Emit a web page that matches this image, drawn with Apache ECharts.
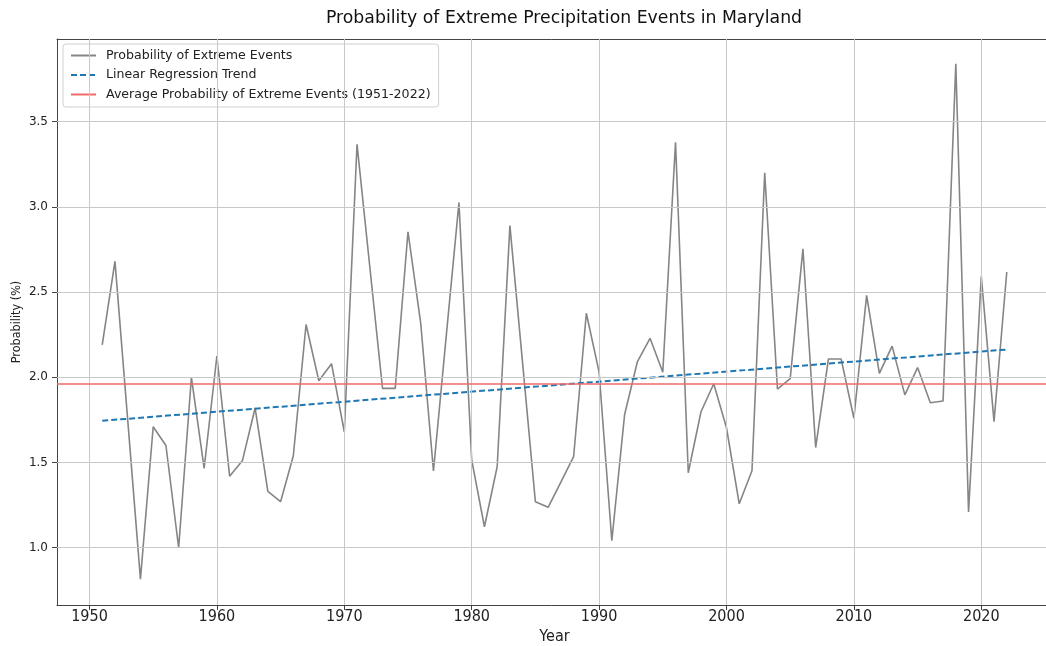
<!DOCTYPE html>
<html>
<head>
<meta charset="utf-8">
<script src="https://cdn.jsdelivr.net/npm/echarts@6/dist/echarts.min.js"></script>
<style>html,body{margin:0;padding:0;background:#fff}#c{width:1046px;height:646px}</style>
</head>
<body>
<div id="c"></div>
<script>
const years = [1951,1952,1953,1954,1955,1956,1957,1958,1959,1960,1961,1962,1963,1964,1965,1966,1967,1968,1969,1970,
  1971,1972,1973,1974,1975,1976,1977,1978,1979,1980,1981,1982,1983,1984,1985,1986,1987,1988,1989,1990,
  1991,1992,1993,1994,1995,1996,1997,1998,1999,2000,2001,2002,2003,2004,2005,2006,2007,2008,2009,2010,
  2011,2012,2013,2014,2015,2016,2017,2018,2019,2020,2021,2022];
const probability = [2.19,2.68,1.75,0.816,1.71,1.60,1.00,2.00,1.466,2.125,1.42,1.51,1.82,1.33,1.27,1.54,2.31,1.98,2.08,1.68,
  3.367,2.65,1.935,1.935,2.854,2.317,1.45,2.24,3.025,1.515,1.123,1.475,2.89,2.08,1.27,1.237,1.385,1.534,2.376,2.03,
  1.041,1.78,2.09,2.229,2.03,3.379,1.44,1.798,1.962,1.704,1.258,1.452,3.20,1.931,1.992,2.754,1.588,2.107,2.107,1.76,
  2.481,2.023,2.183,1.897,2.057,1.851,1.861,3.84,1.21,2.592,1.74,2.618];
const trendYears = [1951, 2022];
const trendValues = [1.745, 2.163];
const averageValue = 1.955;
const xTicks = [1950,1960,1970,1980,1990,2000,2010,2020];
const yTicks = [1.0,1.5,2.0,2.5,3.0,3.5];

const seriesNames = ['Probability of Extreme Events','Linear Regression Trend','Average Probability of Extreme Events (1951-2022)'];
const FONT = 'DejaVu Sans';
const NARROW = '"Liberation Sans Narrow", "DejaVu Sans Condensed", sans-serif';

const X_MIN = 1947.45, X_MAX = 2025.55, Y_MIN = 0.664, Y_MAX = 3.985;

const chart = echarts.init(document.getElementById('c'), null, {renderer:'canvas'});
const gridMarks = yTicks.map(v => ({yAxis: v})).concat(xTicks.map(v => ({xAxis: v})));

chart.setOption({
  animation: false,
  backgroundColor: '#ffffff',
  title: {
    text: 'Probability of Extreme Precipitation Events in Maryland',
    left: 559, top: 5, textAlign: 'center',
    textStyle: {fontFamily: FONT, fontSize: 17.3, fontWeight: 'normal', color: '#111'}
  },
  legend: {
    data: seriesNames,
    orient: 'vertical',
    left: 63, top: 44,
    padding: [5, 8, 6, 7],
    itemGap: 6.5,
    itemWidth: 25, itemHeight: 14,
    backgroundColor: 'rgba(255,255,255,0.85)',
    borderColor: '#d0d0d0', borderWidth: 1, borderRadius: 3,
    itemStyle: {color: 'rgba(0,0,0,0)', borderColor: 'rgba(0,0,0,0)', borderWidth: 0, opacity: 0},
    textStyle: {fontFamily: FONT, fontSize: 12.6, color: '#222', padding: [0,0,0,5]}
  },
  grid: {
    left: 57, top: 39, width: 995, height: 566,
    show: false, containLabel: false, outerBoundsMode: 'none'
  },
  xAxis: [{
    type: 'value', min: X_MIN, max: X_MAX,
    name: 'Year', nameLocation: 'middle', nameGap: 24, nameMoveOverlap: false,
    nameTextStyle: {fontFamily: NARROW, fontSize: 16, color: '#222'},
    axisLine: {show: true, lineStyle: {color: '#444', width: 1}},
    axisTick: {show: true, length: 5, lineStyle: {color: '#444'}, customValues: xTicks},
    axisLabel: {fontFamily: NARROW, fontSize: 16, color: '#222', margin: 4, customValues: xTicks,
      formatter: v => String(Math.round(v))},
    splitLine: {show: false}
  }, {
    type: 'value', min: X_MIN, max: X_MAX, position: 'top',
    axisLine: {show: true, onZero: false, lineStyle: {color: '#444', width: 1}},
    axisTick: {show: false}, axisLabel: {show: false}, splitLine: {show: false}
  }],
  yAxis: {
    type: 'value', min: Y_MIN, max: Y_MAX,
    name: 'Probability (%)', nameLocation: 'middle', nameGap: 34, nameMoveOverlap: false,
    nameTextStyle: {fontFamily: NARROW, fontSize: 12.5, color: '#222'},
    axisLine: {show: true, lineStyle: {color: '#444', width: 1}},
    axisTick: {show: true, length: 5, lineStyle: {color: '#444'}, customValues: yTicks},
    axisLabel: {fontFamily: FONT, fontSize: 12, color: '#222', margin: 9, customValues: yTicks,
      formatter: v => v.toFixed(1)},
    splitLine: {show: false}
  },
  series: [
    {
      name: '_grid', type: 'line', data: [], z: 1, silent: true,
      markLine: {
        silent: true, symbol: ['none','none'], animation: false,
        label: {show: false},
        lineStyle: {color: '#c8c8c8', width: 1, type: 'solid'},
        emphasis: {disabled: true},
        data: gridMarks
      }
    },
    {
      name: seriesNames[0], type: 'line', z: 3,
      data: years.map((y, i) => [y, probability[i]]),
      showSymbol: false, symbol: 'none',
      color: '#858585',
      lineStyle: {color: '#858585', width: 1.6}
    },
    {
      name: seriesNames[1], type: 'line', z: 4,
      data: trendYears.map((y, i) => [y, trendValues[i]]),
      showSymbol: false, symbol: 'none',
      color: '#1f77b4',
      lineStyle: {color: '#1f77b4', width: 2, type: [6, 3]}
    },
    {
      name: seriesNames[2], type: 'line', z: 2, data: [],
      showSymbol: false, symbol: 'none',
      color: '#f06a6a',
      lineStyle: {color: '#f06a6a', width: 1.5},
      markLine: {
        silent: true, symbol: ['none','none'], animation: false,
        label: {show: false},
        lineStyle: {color: '#f06a6a', width: 1.5, type: 'solid'},
        data: [{yAxis: averageValue}]
      }
    }
  ]
});
</script>
</body>
</html>
